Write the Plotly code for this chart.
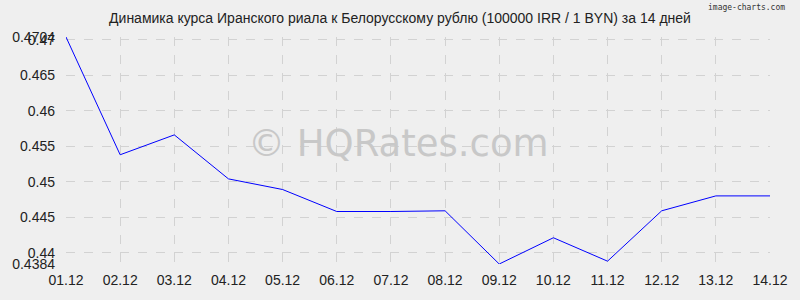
import plotly.graph_objects as go

dates = ["01.12", "02.12", "03.12", "04.12", "05.12", "06.12", "07.12",
         "08.12", "09.12", "10.12", "11.12", "12.12", "13.12", "14.12"]
rates = [0.4704, 0.4538, 0.4566, 0.4504, 0.4489, 0.4458, 0.4458,
         0.4459, 0.4384, 0.4421, 0.4388, 0.4459, 0.4480, 0.4480]
y_ticks = [0.4384, 0.44, 0.445, 0.45, 0.455, 0.46, 0.465, 0.47, 0.4704]
y_tick_text = ["0.4384", "0.44", "0.445", "0.45", "0.455", "0.46", "0.465", "0.47", "0.4704"]

title = "Динамика курса Иранского риала к Белорусскому рублю (100000 IRR / 1 BYN) за 14 дней"

fig = go.Figure()
fig.add_trace(go.Scatter(x=list(range(len(dates))), y=rates, mode="lines",
                         line=dict(color="#0000ff", width=1), hoverinfo="skip"))

bg = "#efefef"
fig.update_layout(
    width=800, height=300,
    margin=dict(l=60, r=21, t=37, b=34),
    paper_bgcolor=bg, plot_bgcolor=bg,
    showlegend=False,
    font=dict(family="Liberation Sans, Arial, sans-serif", size=14, color="#222"),
    title=dict(text=title, x=0.5, xanchor="center", y=0.94, yanchor="middle",
               font=dict(size=14, color="#222")),
    xaxis=dict(range=[0, len(dates) - 1], tickvals=list(range(len(dates))), ticktext=dates,
               showgrid=True, gridcolor="#d2d2d2", griddash="dash", gridwidth=1,
               zeroline=False, showline=False, ticks="", ticklabelstandoff=6),
    yaxis=dict(range=[0.4384, 0.4704], tickvals=y_ticks, ticktext=y_tick_text,
               showgrid=True, gridcolor="#d2d2d2", griddash="dash", gridwidth=1,
               zeroline=False, showline=False, ticks="", ticklabelstandoff=10),
    annotations=[
        dict(text="© HQRates.com", x=0.473, y=0.53, xref="paper", yref="paper",
             xanchor="center", yanchor="middle",
             showarrow=False, font=dict(size=37, color="#c8c8c8",
                                        family="DejaVu Sans, Verdana, sans-serif")),
        dict(text="image-charts.com", x=1.024, y=1.13, xref="paper", yref="paper",
             xanchor="right", yanchor="middle",
             showarrow=False, font=dict(size=8, color="#333",
                                        family="DejaVu Sans Mono, monospace")),
    ],
)
fig.write_html("out.html")
